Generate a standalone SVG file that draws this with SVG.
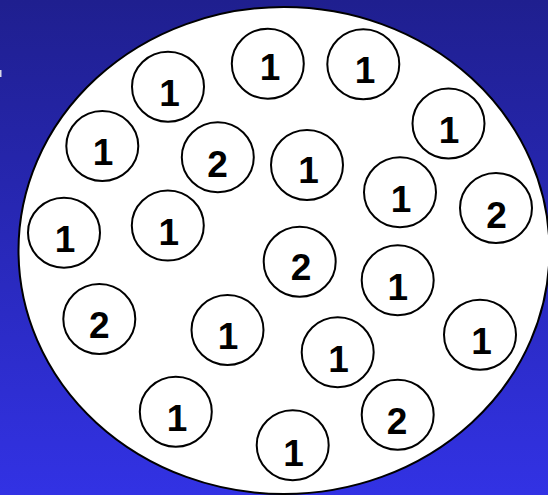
<svg xmlns="http://www.w3.org/2000/svg" width="548" height="495" viewBox="0 0 548 495">
  <defs>
    <linearGradient id="bg" x1="0" y1="0" x2="0" y2="1">
      <stop offset="0" stop-color="#1f1f8f"/>
      <stop offset="1" stop-color="#3232e4"/>
    </linearGradient>
    <style>
      .c { fill: #ffffff; stroke: #000000; stroke-width: 2; }
      .t { font-family: "Liberation Sans", Arial, sans-serif; font-weight: bold; font-size: 37px; fill: #000000; text-anchor: middle; }
    </style>
  </defs>
  <rect x="0" y="0" width="548" height="495" fill="url(#bg)"/>
  <rect x="0" y="70" width="1.5" height="7" fill="#d8d8e8"/>
  <ellipse id="vessel" cx="284" cy="250.5" rx="265.5" ry="243.5" fill="#ffffff" stroke="#000000" stroke-width="2"/>

  <g id="n1"><ellipse class="c" cx="168" cy="86.7" rx="36" ry="35"/><text class="t" x="169.5" y="106">1</text></g>
  <g id="n2"><ellipse class="c" cx="267.8" cy="63.7" rx="36" ry="35"/><text class="t" x="270" y="80">1</text></g>
  <g id="n3"><ellipse class="c" cx="363.3" cy="64.2" rx="36" ry="35"/><text class="t" x="365" y="83.3">1</text></g>
  <g id="n4"><ellipse class="c" cx="448.5" cy="123.5" rx="36" ry="35"/><text class="t" x="449" y="142.7">1</text></g>
  <g id="n5"><ellipse class="c" cx="102.3" cy="146" rx="36" ry="35"/><text class="t" x="103" y="165">1</text></g>
  <g id="n6"><ellipse class="c" cx="217.8" cy="157.3" rx="36" ry="35"/><text class="t" x="217.5" y="176.7">2</text></g>
  <g id="n7"><ellipse class="c" cx="307" cy="165" rx="36" ry="35"/><text class="t" x="308.5" y="182.7">1</text></g>
  <g id="n8"><ellipse class="c" cx="400" cy="192.3" rx="36" ry="35"/><text class="t" x="401" y="212">1</text></g>
  <g id="n9"><ellipse class="c" cx="496" cy="208" rx="36" ry="35"/><text class="t" x="496.5" y="228.3">2</text></g>
  <g id="n10"><ellipse class="c" cx="64" cy="232.8" rx="36" ry="35"/><text class="t" x="65" y="251.7">1</text></g>
  <g id="n11"><ellipse class="c" cx="167.8" cy="225.5" rx="36" ry="35"/><text class="t" x="168.7" y="245">1</text></g>
  <g id="n12"><ellipse class="c" cx="299.7" cy="261.7" rx="36" ry="35"/><text class="t" x="301" y="280">2</text></g>
  <g id="n13"><ellipse class="c" cx="397.7" cy="280.3" rx="36" ry="35"/><text class="t" x="397.7" y="300">1</text></g>
  <g id="n14"><ellipse class="c" cx="99.3" cy="319" rx="36" ry="35"/><text class="t" x="99.3" y="337.7">2</text></g>
  <g id="n15"><ellipse class="c" cx="227.5" cy="330" rx="36" ry="35"/><text class="t" x="228" y="349">1</text></g>
  <g id="n16"><ellipse class="c" cx="337.7" cy="352.3" rx="36" ry="35"/><text class="t" x="338.5" y="372.3">1</text></g>
  <g id="n17"><ellipse class="c" cx="480" cy="334.7" rx="36" ry="35"/><text class="t" x="481.5" y="354.3">1</text></g>
  <g id="n18"><ellipse class="c" cx="175.8" cy="411.7" rx="36" ry="35"/><text class="t" x="177" y="431">1</text></g>
  <g id="n19"><ellipse class="c" cx="397.7" cy="414.7" rx="36" ry="35"/><text class="t" x="397" y="434.3">2</text></g>
  <g id="n20"><ellipse class="c" cx="292.7" cy="445.3" rx="36" ry="35"/><text class="t" x="293.5" y="465.7">1</text></g>

  <g id="connectors"/>
</svg>
